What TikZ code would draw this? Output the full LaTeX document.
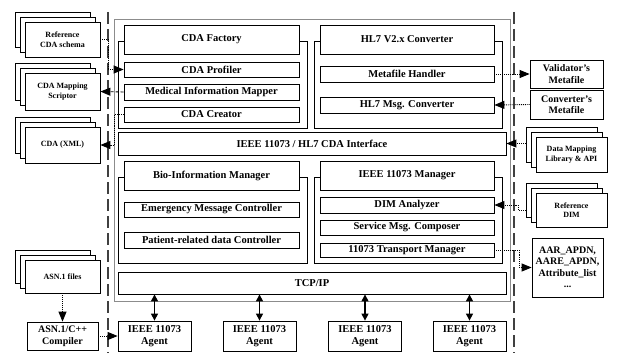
\documentclass[tikz,border=0pt]{standalone}
\usepackage{fontspec}
\setmainfont{Liberation Serif}
\usetikzlibrary{arrows.meta,shadows,calc}
\begin{document}
\begin{tikzpicture}[x=1pt,y=-1pt,
  box/.style={draw, fill=white, line width=0.8pt, inner sep=0pt, align=center,
    font=\fontsize{10.5}{12}\selectfont\bfseries},
  side/.style={box, font=\fontsize{10}{11.5}\selectfont\bfseries},
  stack/.style={box, font=\fontsize{8}{9.5}\selectfont\bfseries,
    double copy shadow={shadow xshift=-5pt, shadow yshift=5pt}},
  grp/.style={draw, line width=0.8pt},
  conn/.style={densely dotted, line width=0.9pt, -{Triangle[length=10pt,width=8pt]}},
  dconn/.style={densely dashed, line width=0.9pt, -{Triangle[length=10pt,width=8pt]}},
  bus/.style={line width=1.2pt, {Triangle[length=7pt,width=7pt]}-{Triangle[length=7pt,width=7pt]}},
  sep/.style={dash pattern=on 12pt off 5pt, line width=1.2pt, black!75},
  frame/.style={draw=black!45, line width=1pt}]
\useasboundingbox (0,0) rectangle (617,353);

% separators
\draw[sep] (108,12) -- (108,353);
\draw[sep] (514,12) -- (514,353);

% outer frame
\draw[frame] (114,20) rectangle (510,301);

% groups
\draw[grp] (118,41) rectangle (307,128);
\draw[grp] (314,41) rectangle (502,128);
\draw[grp] (118,177) rectangle (307,263);
\draw[grp] (314,177) rectangle (502,263);

% CDA factory
\node[box, minimum width=175, minimum height=29] (factory) at (211.5,39.5) {CDA Factory};
\node[box, minimum width=175, minimum height=15] (profiler) at (211.5,69.5) {CDA Profiler};
\node[box, minimum width=175, minimum height=16] (mapper) at (211.5,92) {Medical Information Mapper};
\node[box, minimum width=175, minimum height=15] (creator) at (211.5,114.5) {CDA Creator};

% HL7 converter
\node[box, minimum width=174, minimum height=29] (hl7conv) at (407,39.5) {HL7 V2.x Converter};
\node[box, minimum width=174, minimum height=16] (mfh) at (407,74) {Metafile Handler};
\node[box, minimum width=174, minimum height=16] (hl7msg) at (407,105) {HL7 Msg. Converter};

% interface
\node[box, minimum width=388, minimum height=23] (iface) at (312,143.5) {IEEE 11073 / HL7 CDA Interface};

% Bio-information manager
\node[box, minimum width=175, minimum height=29] (bio) at (211.5,175.5) {Bio-Information Manager};
\node[box, minimum width=175, minimum height=15] (emerg) at (211.5,209.5) {Emergency Message Controller};
\node[box, minimum width=175, minimum height=16] (patient) at (211.5,240) {Patient-related data Controller};

% IEEE 11073 manager
\node[box, minimum width=174, minimum height=29] (mgr) at (407,175.5) {IEEE 11073 Manager};
\node[box, minimum width=174, minimum height=16] (dim) at (407,205) {DIM Analyzer};
\node[box, minimum width=174, minimum height=15] (svc) at (407,227.5) {Service Msg. Composer};
\node[box, minimum width=174, minimum height=14] (transport) at (407,250) {11073 Transport Manager};

% TCP/IP
\node[box, minimum width=388, minimum height=22] (tcp) at (312,283) {TCP/IP};

% agents
\node[box, minimum width=73, minimum height=30] (ag1) at (154.5,336) {IEEE 11073\\Agent};
\node[box, minimum width=73, minimum height=30] (ag2) at (259.5,336) {IEEE 11073\\Agent};
\node[box, minimum width=73, minimum height=30] (ag3) at (365,336) {IEEE 11073\\Agent};
\node[box, minimum width=73, minimum height=30] (ag4) at (469.5,336) {IEEE 11073\\Agent};

% left side
\node[stack, minimum width=75, minimum height=35] (refcda) at (62.5,39.5) {Reference\\CDA schema};
\node[stack, minimum width=75, minimum height=37] (scriptor) at (62.5,91.5) {CDA Mapping\\Scriptor};
\node[stack, minimum width=75, minimum height=36] (cdaxml) at (62.5,145) {CDA (XML)};
\node[stack, minimum width=75, minimum height=33] (asn) at (62.5,276.5) {ASN.1 files};
\node[side, minimum width=71, minimum height=28] (compiler) at (62.5,336) {ASN.1/C++\\Compiler};

% right side
\node[side, minimum width=73, minimum height=28] (valid) at (566.5,74) {Validator's\\Metafile};
\node[side, minimum width=73, minimum height=29] (convmf) at (566.5,104.5) {Converter's\\Metafile};
\node[stack, minimum width=71, minimum height=35] (datamap) at (571.5,154.5) {Data Mapping\\Library \& API};
\node[stack, minimum width=71, minimum height=34] (refdim) at (571.5,210) {Reference\\DIM};
\node[side, minimum width=71, minimum height=59] (aar) at (567.5,267.5) {AAR\_APDN,\\AARE\_APDN,\\Attribute\_list\\...};

\coordinate (dmback) at ($(datamap.west)+(-10,0)$);
\coordinate (rdback) at ($(refdim.west)+(-10,0)$);

% connectors
\draw[conn] (refcda.east) -- ++(8,0) |- (profiler.west);
\draw[dconn] (mapper.west) -- (scriptor.east);
\draw[conn] (creator.west) -- ++(-9,0) |- (cdaxml.east);
\draw[conn] (asn.south) -- (compiler.north);
\draw[conn] (compiler.east) -- (ag1.west);
\draw[conn] (mfh.east) -- (valid.west);
\draw[conn] (convmf.west) -- (hl7msg.east);
\draw[conn] (iface.east -| dmback) -- (iface.east);
\draw[conn] (rdback) -- ++(-7,0) |- (dim.east);
\draw[conn] (transport.east) -- ++(25,0) |- (aar.west);

\foreach \a in {ag1,ag2,ag3,ag4}
  \draw[bus] (\a.north) -- (\a.north |- tcp.south);
\end{tikzpicture}
\end{document}
